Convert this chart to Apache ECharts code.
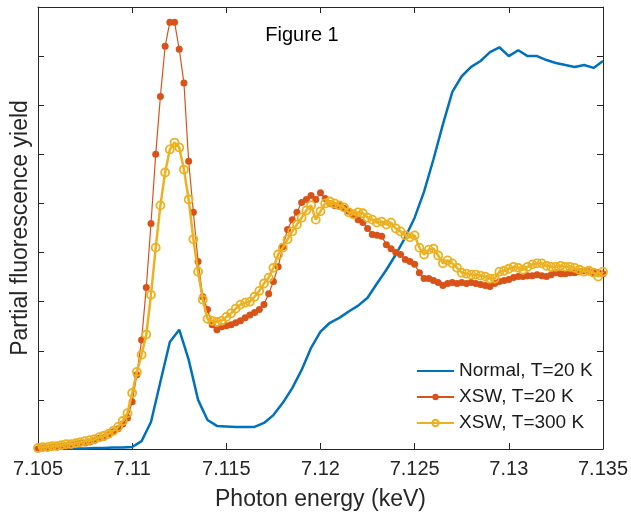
<!DOCTYPE html>
<html>
<head>
<meta charset="utf-8">
<script src="https://cdn.jsdelivr.net/npm/echarts@6/dist/echarts.min.js"></script>
<style>
  html, body { margin: 0; padding: 0; background: #fff; }
  #chart { width: 631px; height: 517px; }
</style>
</head>
<body>
<div id="chart"></div>
<script>
// x ticks (keV)
const xTickLabels = ['7.105', '7.11', '7.115', '7.12', '7.125', '7.13', '7.135'];

// energy grid of the XSW scans (keV)
const xswEnergy = [
  7.10500, 7.10525, 7.10550, 7.10575, 7.10600, 7.10625, 7.10650, 7.10675, 7.10700, 7.10725,
  7.10750, 7.10775, 7.10800, 7.10825, 7.10850, 7.10875, 7.10900, 7.10925, 7.10950, 7.10975,
  7.11000, 7.11025, 7.11050, 7.11075, 7.11100, 7.11125, 7.11150, 7.11175, 7.11200, 7.11225,
  7.11250, 7.11275, 7.11300, 7.11325, 7.11350, 7.11375, 7.11400, 7.11425, 7.11450, 7.11475,
  7.11500, 7.11525, 7.11550, 7.11575, 7.11600, 7.11625, 7.11650, 7.11675, 7.11700, 7.11725,
  7.11750, 7.11775, 7.11800, 7.11825, 7.11850, 7.11875, 7.11900, 7.11925, 7.11950, 7.11975,
  7.12000, 7.12025, 7.12050, 7.12075, 7.12100, 7.12125, 7.12150, 7.12175, 7.12200, 7.12225,
  7.12250, 7.12275, 7.12300, 7.12325, 7.12350, 7.12375, 7.12400, 7.12425, 7.12450, 7.12475,
  7.12500, 7.12525, 7.12550, 7.12575, 7.12600, 7.12625, 7.12650, 7.12675, 7.12700, 7.12725,
  7.12750, 7.12775, 7.12800, 7.12825, 7.12850, 7.12875, 7.12900, 7.12925, 7.12950, 7.12975,
  7.13000, 7.13025, 7.13050, 7.13075, 7.13100, 7.13125, 7.13150, 7.13175, 7.13200, 7.13225,
  7.13250, 7.13275, 7.13300, 7.13325, 7.13350, 7.13375, 7.13400, 7.13425, 7.13450, 7.13475,
  7.13500
];

// XSW, T=20 K
const xsw20 = [
  0.00, 0.02, 0.02, 0.04, 0.04, 0.06, 0.06, 0.08, 0.10, 0.12,
  0.12, 0.14, 0.18, 0.22, 0.24, 0.29, 0.35, 0.41, 0.51, 0.63,
  0.96, 1.51, 2.22, 3.29, 4.59, 6.00, 7.18, 8.20, 8.69, 8.69,
  8.14, 7.45, 5.86, 4.82, 3.82, 3.10, 2.84, 2.53, 2.43, 2.49,
  2.51, 2.53, 2.57, 2.61, 2.67, 2.73, 2.78, 2.84, 2.94, 3.16,
  3.41, 3.71, 4.12, 4.47, 4.67, 4.82, 5.02, 5.08, 5.16, 5.08,
  5.22, 5.10, 5.00, 4.96, 4.96, 4.90, 4.84, 4.76, 4.67, 4.61,
  4.49, 4.37, 4.35, 4.33, 4.16, 4.08, 4.00, 3.96, 3.86, 3.82,
  3.76, 3.59, 3.47, 3.47, 3.43, 3.39, 3.33, 3.37, 3.39, 3.37,
  3.39, 3.37, 3.39, 3.37, 3.35, 3.33, 3.31, 3.37, 3.41, 3.43,
  3.45, 3.49, 3.51, 3.51, 3.53, 3.53, 3.55, 3.53, 3.51, 3.55,
  3.59, 3.57, 3.57, 3.59, 3.59, 3.61, 3.63, 3.61, 3.59, 3.59,
  3.57
];

// XSW, T=300 K
const xsw300 = [
  0.02, 0.04, 0.04, 0.06, 0.06, 0.08, 0.10, 0.10, 0.12, 0.14,
  0.16, 0.18, 0.20, 0.24, 0.27, 0.31, 0.37, 0.45, 0.57, 0.73,
  1.14, 1.57, 1.92, 2.33, 3.14, 4.10, 4.96, 5.63, 6.10, 6.24,
  6.14, 5.69, 5.08, 4.27, 3.61, 3.04, 2.65, 2.61, 2.59, 2.61,
  2.69, 2.76, 2.86, 2.94, 2.98, 3.00, 3.10, 3.22, 3.37, 3.49,
  3.69, 3.96, 4.10, 4.27, 4.43, 4.57, 4.71, 4.86, 4.96, 4.67,
  4.84, 5.00, 5.04, 5.00, 4.96, 4.92, 4.82, 4.78, 4.82, 4.80,
  4.71, 4.67, 4.61, 4.63, 4.57, 4.61, 4.49, 4.43, 4.35, 4.31,
  4.35, 4.10, 3.96, 4.06, 4.08, 3.94, 3.78, 3.84, 3.78, 3.69,
  3.59, 3.57, 3.55, 3.55, 3.53, 3.51, 3.47, 3.47, 3.61, 3.63,
  3.67, 3.71, 3.69, 3.65, 3.71, 3.76, 3.78, 3.78, 3.73, 3.71,
  3.71, 3.73, 3.71, 3.71, 3.69, 3.65, 3.61, 3.63, 3.59, 3.51,
  3.61
];

// normal fluorescence scan
const normalEnergy = [
  7.1050, 7.1055, 7.1060, 7.1065, 7.1070, 7.1075, 7.1080, 7.1085, 7.1090, 7.1095,
  7.1100, 7.1105, 7.1110, 7.1115, 7.1120, 7.1125, 7.1130, 7.1135, 7.1140, 7.1145,
  7.1150, 7.1155, 7.1160, 7.1165, 7.1170, 7.1175, 7.1180, 7.1185, 7.1190, 7.1195,
  7.1200, 7.1205, 7.1210, 7.1215, 7.1220, 7.1225, 7.1230, 7.1235, 7.1240, 7.1245,
  7.1250, 7.1255, 7.1260, 7.1265, 7.1270, 7.1275, 7.1280, 7.1285, 7.1290, 7.1295,
  7.1300, 7.1305, 7.1310, 7.1315, 7.1320, 7.1325, 7.1330, 7.1335, 7.1340, 7.1345,
  7.1350
];
const normal20 = [
  0.00, 0.00, 0.00, 0.01, 0.01, 0.01, 0.02, 0.02, 0.03, 0.03,
  0.04, 0.16, 0.55, 1.37, 2.18, 2.43, 1.82, 1.00, 0.59, 0.47,
  0.46, 0.45, 0.45, 0.45, 0.53, 0.69, 0.94, 1.24, 1.61, 2.06,
  2.39, 2.57, 2.67, 2.80, 2.92, 3.08, 3.37, 3.65, 3.96, 4.31,
  4.71, 5.24, 5.90, 6.61, 7.27, 7.59, 7.78, 7.90, 8.08, 8.18,
  8.00, 8.12, 8.00, 8.00, 7.92, 7.86, 7.82, 7.78, 7.82, 7.76,
  7.90
];

const seriesNames = ['Normal, T=20 K', 'XSW, T=20 K', 'XSW, T=300 K'];

const axisColor = '#262626';
const font = '"Liberation Sans", Arial, sans-serif';

const chart = echarts.init(document.getElementById('chart'));

const boxAxis = {
  axisLine: { show: true, onZero: false, lineStyle: { color: axisColor, width: 1 } },
  axisTick: { show: true, inside: true, length: 6, lineStyle: { color: axisColor } },
  splitLine: { show: false }
};

const option = {
  animation: false,
  backgroundColor: '#fff',
  grid: { left: 38, top: 7, width: 566, height: 442 },
  graphic: [
    {
      type: 'text',
      x: 302,
      y: 35,
      style: {
        text: 'Figure 1',
        fontSize: 20,
        fontFamily: font,
        fill: '#000',
        align: 'center',
        verticalAlign: 'middle'
      }
    }
  ],
  legend: {
    orient: 'vertical',
    left: 411,
    top: 356,
    itemWidth: 37,
    itemHeight: 8,
    itemGap: 6,
    data: [
      // plain line for the normal scan, no marker
      { name: seriesNames[0], itemStyle: { opacity: 0 } },
      { name: seriesNames[1] },
      { name: seriesNames[2] }
    ],
    textStyle: { fontSize: 19, fontFamily: font, color: '#1a1a1a', lineHeight: 20 }
  },
  xAxis: [
    {
      type: 'value',
      position: 'bottom',
      min: 7.105,
      max: 7.135,
      interval: 0.005,
      ...boxAxis,
      axisLabel: {
        color: axisColor,
        fontSize: 20,
        fontFamily: font,
        margin: 10,
        formatter: v => xTickLabels[Math.round((v - 7.105) / 0.005)]
      },
      name: 'Photon energy (keV)',
      nameLocation: 'middle',
      nameGap: 39,
      nameTextStyle: { fontSize: 23, fontFamily: font, color: axisColor }
    },
    {
      type: 'value',
      position: 'top',
      min: 7.105,
      max: 7.135,
      interval: 0.005,
      ...boxAxis,
      axisLabel: { show: false }
    }
  ],
  yAxis: [
    {
      type: 'value',
      position: 'left',
      min: 0,
      max: 9,
      interval: 1,
      ...boxAxis,
      axisLabel: { show: false },
      name: 'Partial fluorescence yield',
      nameLocation: 'middle',
      nameGap: 6,
      nameTextStyle: { fontSize: 23, fontFamily: font, color: axisColor }
    },
    {
      type: 'value',
      position: 'right',
      min: 0,
      max: 9,
      interval: 1,
      ...boxAxis,
      axisLabel: { show: false }
    }
  ],
  series: [
    {
      name: seriesNames[0],
      type: 'line',
      data: normalEnergy.map((e, i) => [e, normal20[i]]),
      symbol: 'none',
      lineStyle: { color: '#0072BD', width: 2.5 },
      itemStyle: { color: '#0072BD' },
      z: 2
    },
    {
      name: seriesNames[1],
      type: 'line',
      data: xswEnergy.map((e, i) => [e, xsw20[i]]),
      symbol: 'circle',
      symbolSize: 7,
      lineStyle: { color: '#D95319', width: 1.2 },
      itemStyle: { color: '#D95319' },
      z: 3
    },
    {
      name: seriesNames[2],
      type: 'line',
      data: xswEnergy.map((e, i) => [e, xsw300[i]]),
      symbol: 'circle',
      symbolSize: 8,
      lineStyle: { color: '#EDB120', width: 2.5 },
      itemStyle: { color: 'rgba(255,255,255,0)', borderColor: '#EDB120', borderWidth: 1.8 },
      z: 4
    }
  ]
};

chart.setOption(option);
</script>
</body>
</html>
